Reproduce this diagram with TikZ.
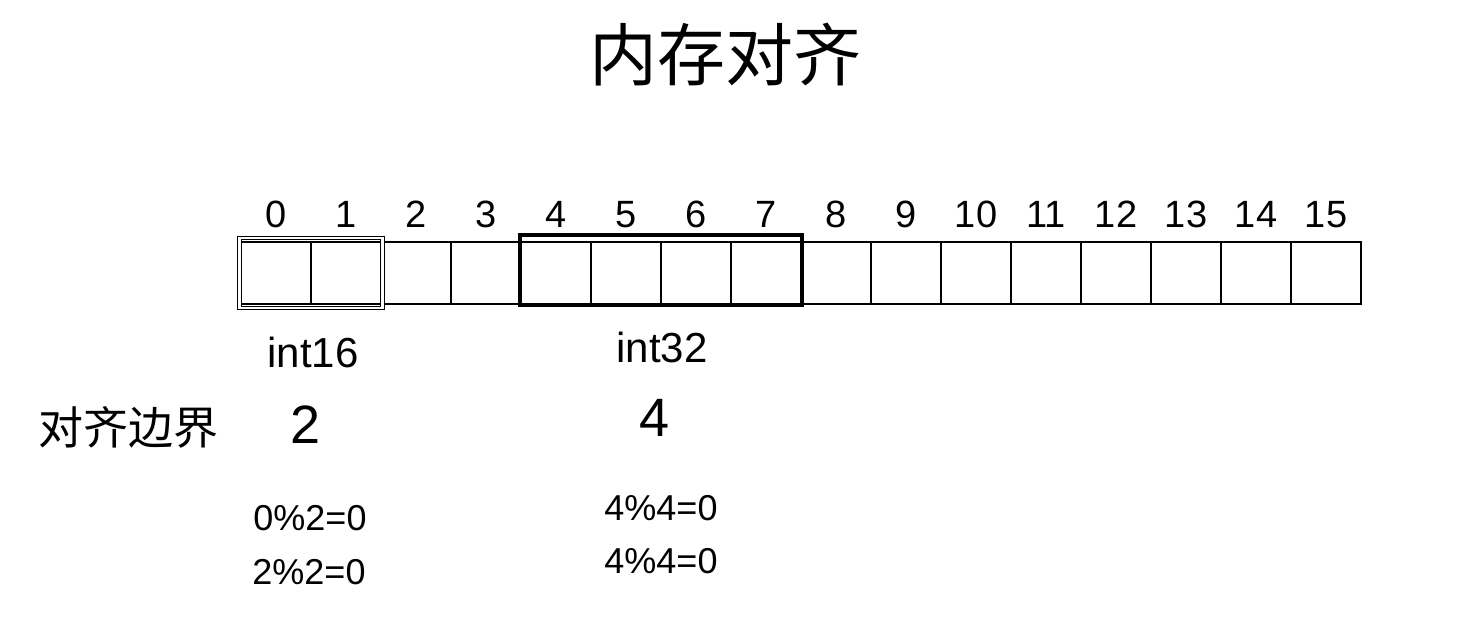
\documentclass[tikz,border=0pt]{standalone}
\usepackage{fontspec}
\setmainfont{Liberation Sans}
\newfontfamily\cjk{Noto Sans CJK SC}
\usepackage{tikz}
\usetikzlibrary{positioning, calc, fit}
\tikzset{
    cell/.style={
        rectangle, minimum width=35pt, minimum height=31pt,
        inner sep=0pt, draw=black, line width=0.9pt
    },
    idx/.style={
        inner sep=0pt, anchor=base, font=\fontsize{19}{22}\selectfont
    },
    typelabel/.style={
        inner sep=0pt, font=\fontsize{21}{24}\selectfont
    },
    boundnum/.style={
        inner sep=0pt, font=\fontsize{27}{30}\selectfont
    },
    modline/.style={
        inner sep=0pt, font=\fontsize{18}{21}\selectfont
    },
    halfbox/.style={
        draw=black, line width=0.5pt, double, double distance=1.2pt, inner sep=0pt
    },
    wordbox/.style={
        draw=black, line width=2pt, inner sep=0pt
    }
}

\begin{document}
\begin{tikzpicture}[x=0.5pt, y=-0.5pt]
        \useasboundingbox (0,0) rectangle (1471,623);
        \node [font=\cjk\fontsize{34}{38}\selectfont] (title) at (725,55) {内存对齐};
        % the 16 bytes
        \foreach \i in {0,...,15} {
            \node [cell] (cell\i) at (276+70*\i,273) {};
            \node [idx] (num\i) at (276+70*\i,227) {\i};
        }
        \node [halfbox, fit=(cell0)(cell1), inner xsep=0.3pt, inner ysep=1.5pt] (box16) {};
        \coordinate (top32) at ($(cell4.north west)+(0,-6)$);
        \node [wordbox, fit=(top32)(cell7.south east)] (box32) {};
        % types and their boundaries
        \node [typelabel] (int16) at (313,352) {int16};
        \node [typelabel] (int32) at (662,347) {int32};
        \node [font=\cjk\fontsize{22.5}{26}\selectfont] (bound) at (128,427) {对齐边界};
        \node [boundnum] (bound16) at (306,425) {2};
        \node [boundnum] (bound32) at (655,418) {4};
        \node [modline] (mod16a) at (310,518) {0\%2=0};
        \node [modline] (mod16b) at (309,572) {2\%2=0};
        \node [modline] (mod32a) at (661,508) {4\%4=0};
        \node [modline] (mod32b) at (661,561) {4\%4=0};
\end{tikzpicture}
\end{document}
